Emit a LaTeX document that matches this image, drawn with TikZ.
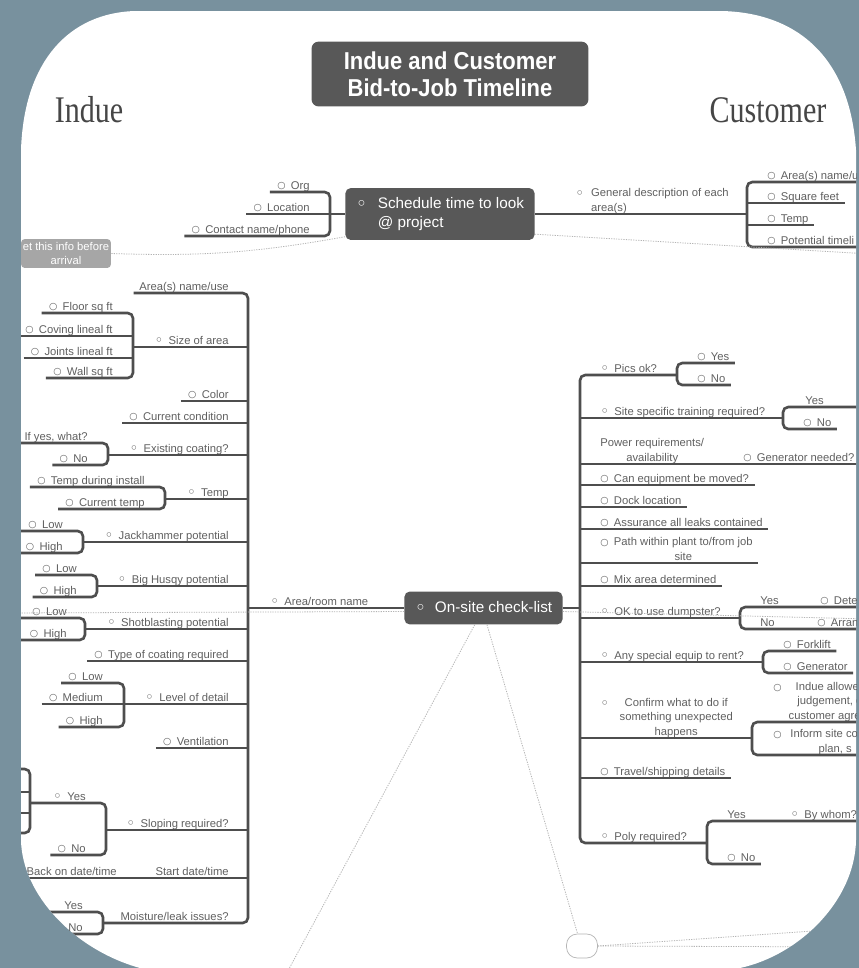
\documentclass[tikz,border=0pt]{standalone}
\usepackage{fontspec}
\setmainfont{Liberation Sans}
\newfontfamily\sidefont[FakeStretch=0.8]{Liberation Serif}
\newfontfamily\titlefont[FakeStretch=0.9]{Liberation Sans}
\newfontfamily\symfont{DejaVu Sans}
\usetikzlibrary{calc}

\definecolor{bgslate}{RGB}{120,145,158}
\definecolor{topicfill}{RGB}{88,88,88}
\definecolor{branchgray}{RGB}{78,78,78}
\definecolor{labelgray}{RGB}{96,96,96}
\definecolor{notefill}{RGB}{166,166,166}
\definecolor{relgray}{RGB}{180,180,180}
\definecolor{sidegray}{RGB}{70,70,70}

\newcommand\lblfont{\fontsize{6.4}{8}\selectfont}
\newcommand\topicfont{\fontsize{8.7}{10.8}\selectfont}
% markers in front of the labels
\newcommand\omk{\raisebox{0.4pt}{\symfont\fontsize{5.4}{6}\selectfont\char"25CB}}
\newcommand\emk{\raisebox{-1.1pt}{\symfont\fontsize{8.5}{8}\selectfont\char"25E6}}
\newcommand\temk{\raisebox{-1.3pt}{\symfont\fontsize{11}{8}\selectfont\char"25E6}}
\newcommand\ob{\omk\hspace{3pt}}
\newcommand\eb{\emk\hspace{3pt}}

\begin{document}
\begin{tikzpicture}[x=0.02cm, y=-0.02cm,
  lftlbl/.style={anchor=south east, inner xsep=0pt, inner ysep=0.5pt, text depth=1pt, font=\lblfont, text=labelgray},
  rgtlbl/.style={lftlbl, anchor=south west},
  branch/.style={draw=branchgray, line width=1.5pt, rounded corners=3pt},
  topic/.style={fill=topicfill, rounded corners=3pt, text=white, font=\topicfont, inner sep=0pt},
  relline/.style={draw=relgray, line width=0.45pt, dash pattern=on 0.7pt off 0.7pt},
  sidelbl/.style={anchor=base, font=\sidefont\fontsize{21.4}{24}\selectfont, text=sidegray}]
\useasboundingbox (0,0) rectangle (859,968);
\fill[bgslate] (0,0) rectangle (859,968);
\fill[white] (21,150) .. controls (24,60) and (70,13) .. (135,11) -- (722,11)
  .. controls (800,13) and (850,60) .. (856,150) -- (856,840)
  .. controls (855,900) and (800,955) .. (740,968) -- (140,968)
  .. controls (75,950) and (22,895) .. (21,840) -- cycle;
\begin{scope}
\clip (21,150) .. controls (24,60) and (70,13) .. (135,11) -- (722,11)
  .. controls (800,13) and (850,60) .. (856,150) -- (856,840)
  .. controls (855,900) and (800,955) .. (740,968) -- (140,968)
  .. controls (75,950) and (22,895) .. (21,840) -- cycle;

% title and sides
\node[topic, font=\titlefont\bfseries\fontsize{13.9}{15.3}\selectfont, align=center,
  minimum width=157.6pt, minimum height=36.9pt, rounded corners=4pt] (title) at (450,74)
  {Indue and Customer\\Bid-to-Job Timeline};
\node[sidelbl] (indue) at (89,122) {Indue};
\node[sidelbl] (customer) at (768,122) {Customer};

\coordinate (redge) at (880,0);

% schedule topic
\node[topic, minimum width=107.7pt, minimum height=29.5pt] (sched) at (440,214)
  {\begin{tabular}{@{}l@{\hspace{6pt}}l@{}}\temk & Schedule time to look\\ & @ project\end{tabular}};
\coordinate (sclj) at (330,214);
\node[lftlbl] (org) at (310,192) {\ob Org};
\node[lftlbl] (location) at (310,214) {\ob Location};
\node[lftlbl] (contact) at (310,236) {\ob Contact name/phone};
\draw[branch] ([xshift=-4pt]org.south west) -| (sclj) |- ([xshift=-4pt]contact.south west);
\draw[branch] ([xshift=-4pt]location.south west) -- (sched.west);

\node[rgtlbl] (gendesc) at (575,214)
  {\begin{tabular}[b]{@{}l@{\hspace{4pt}}l@{}}\emk & General description of each\\ & area(s)\end{tabular}};
\coordinate (gdj) at (747,214);
\node[rgtlbl] (areau) at (767,182) {\ob Area(s) name/u};
\node[rgtlbl] (sqft) at (767,203) {\ob Square feet};
\node[rgtlbl] (tmpb) at (767,225) {\ob Temp};
\node[rgtlbl] (potl) at (767,247) {\ob Potential timeli};
\draw[branch] (sched.east) -- (gdj);
\draw[branch] (areau.south west -| redge) -| (gdj) |- (potl.south west -| redge);
\foreach \n in {sqft,tmpb}
  \draw[branch] (gdj |- \n.south west) -- ([xshift=3pt]\n.south east);

\node[fill=notefill, text=white, font=\lblfont, align=center, rounded corners=2pt,
  minimum width=51pt, minimum height=16.4pt, inner sep=1pt] (getinfo) at (66,253.5)
  {et this info before\\arrival};

% on-site topic
\node[topic, minimum width=90pt, minimum height=18.7pt] (onsite) at (483.5,608)
  {\temk\hspace{5pt}On-site check-list};
\coordinate (lt) at (248,608);
\coordinate (rt) at (580,608);
\node[rgtlbl] (roomname) at (270,608) {\eb Area/room name};
\draw[branch] (onsite.west) -- (lt);
\draw[branch] (onsite.east) -- (rt);

% left tree
\node[lftlbl] (areause) at (229,293) {Area(s) name/use};
\node[lftlbl] (sizearea) at (229,347) {\eb Size of area};
\node[lftlbl] (clr) at (229,401) {\ob Color};
\node[lftlbl] (curcond) at (229,423) {\ob Current condition};
\node[lftlbl] (exist) at (229,455) {\eb Existing coating?};
\node[lftlbl] (temp) at (229,499) {\eb Temp};
\node[lftlbl] (jack) at (229,542) {\eb Jackhammer potential};
\node[lftlbl] (husqy) at (229,586) {\eb Big Husqy potential};
\node[lftlbl] (shot) at (229,629) {\eb Shotblasting potential};
\node[lftlbl] (coattype) at (229,661) {\ob Type of coating required};
\node[lftlbl] (detail) at (229,704) {\eb Level of detail};
\node[lftlbl] (vent) at (229,748) {\ob Ventilation};
\node[lftlbl] (slope) at (229,830) {\eb Sloping required?};
\node[lftlbl] (startdt) at (229,878) {Start date/time};
\node[lftlbl] (backon) at (117,878) {Back on date/time};
\node[lftlbl] (moist) at (229,923) {Moisture/leak issues?};

\coordinate (szj) at (133,347);
\coordinate (exj) at (108,455);
\coordinate (tpj) at (165,499);
\coordinate (jkj) at (83,542);
\coordinate (hqj) at (97,586);
\coordinate (sbj) at (85,629);
\coordinate (ldj) at (124,704);
\coordinate (slj) at (106,830);
\coordinate (syj) at (30,803);
\coordinate (mlj) at (103,923);

\node[lftlbl] (floor) at (113,313) {\ob Floor sq ft};
\node[lftlbl] (coving) at (113,336) {\ob Coving lineal ft};
\node[lftlbl] (joints) at (113,358) {\ob Joints lineal ft};
\node[lftlbl] (wall) at (113,378) {\ob Wall sq ft};
\node[lftlbl] (ifyes) at (88,443) {If yes, what?};
\node[lftlbl] (exno) at (88,465) {\ob No};
\node[lftlbl] (tdi) at (145,487) {\ob Temp during install};
\node[lftlbl] (ctemp) at (145,509) {\ob Current temp};
\node[lftlbl] (jklow) at (63,531) {\ob Low};
\node[lftlbl] (jkhigh) at (63,553) {\ob High};
\node[lftlbl] (hqlow) at (77,575) {\ob Low};
\node[lftlbl] (hqhigh) at (77,597) {\ob High};
\node[lftlbl] (sblow) at (67,618) {\ob Low};
\node[lftlbl] (sbhigh) at (67,640) {\ob High};
\node[lftlbl] (ldlow) at (103,683) {\ob Low};
\node[lftlbl] (ldmed) at (103,704) {\ob Medium};
\node[lftlbl] (ldhigh) at (103,727) {\ob High};
\node[lftlbl] (slyes) at (86,803) {\eb Yes};
\node[lftlbl] (slno) at (86,855) {\ob No};
\node[lftlbl] (mlyes) at (83,912) {Yes};
\node[lftlbl] (mlno) at (83,934) {No};

\draw[branch] ([xshift=-3pt]areause.south west) -| (lt) |- (mlj);
\foreach \n in {clr,curcond,coattype,vent}
  \draw[branch] ([xshift=-4pt]\n.south west) -- (\n.south west -| lt);
\foreach \j in {szj,exj,tpj,jkj,hqj,sbj,ldj,slj}
  \draw[branch] (\j) -- (\j -| lt);
\draw[branch] ([xshift=-8pt]backon.south west) -- (backon.south west -| lt);

\draw[branch] ([xshift=-4pt]floor.south west) -| (szj) |- ([xshift=-4pt]wall.south west);
\foreach \n in {coving,joints}
  \draw[branch] ([xshift=-4pt]\n.south west) -- (\n.south west -| szj);
\draw[branch] ([xshift=-12pt]ifyes.south west) -| (exj) |- ([xshift=-4pt]exno.south west);
\draw[branch] ([xshift=-4pt]tdi.south west) -| (tpj) |- ([xshift=-4pt]ctemp.south west);
\draw[branch] ([xshift=-6pt]jklow.south west) -| (jkj) |- ([xshift=-6pt]jkhigh.south west);
\draw[branch] ([xshift=-4pt]hqlow.south west) -| (hqj) |- ([xshift=-4pt]hqhigh.south west);
\draw[branch] ([xshift=-8pt]sblow.south west) -| (sbj) |- ([xshift=-8pt]sbhigh.south west);
\draw[branch] ([xshift=-4pt]ldlow.south west) -| (ldj) |- ([xshift=-4pt]ldhigh.south west);
\draw[branch] ([xshift=-4pt]ldmed.south west) -- (ldj);
\draw[branch] (syj) -| (slj) |- ([xshift=-4pt]slno.south west);
\draw[branch] (0,769) -| (syj) |- (0,833);
\draw[branch] (0,792) -- (30,792);
\draw[branch] (0,813) -- (30,813);
\draw[branch] ([xshift=-30pt]mlyes.south west) -| (mlj) |- ([xshift=-30pt]mlno.south west);

% right tree
\node[rgtlbl] (pics) at (600,375) {\eb Pics ok?};
\node[rgtlbl] (train) at (600,418) {\eb Site specific training required?};
\node[rgtlbl, align=center] (power) at (600,464) {Power requirements/\\availability};
\node[rgtlbl] (gen) at (743,464) {\ob Generator needed?};
\node[rgtlbl] (canmove) at (600,485) {\ob Can equipment be moved?};
\node[rgtlbl] (dock) at (600,507) {\ob Dock location};
\node[rgtlbl] (leaks) at (600,529) {\ob Assurance all leaks contained};
\node[rgtlbl] (path) at (600,563)
  {\begin{tabular}[b]{@{}l@{\hspace{3pt}}c@{}}\omk & Path within plant to/from job\\ & site\end{tabular}};
\node[rgtlbl] (mix) at (600,586) {\ob Mix area determined};
\node[rgtlbl] (dump) at (600,618) {\eb OK to use dumpster?};
\node[rgtlbl] (rent) at (600,662) {\eb Any special equip to rent?};
\node[rgtlbl] (confirm) at (600,738)
  {\begin{tabular}[b]{@{}l@{\hspace{6pt}}c@{}}\emk & Confirm what to do if\\ & something unexpected\\ & happens\end{tabular}};
\node[rgtlbl] (travel) at (600,778) {\ob Travel/shipping details};
\node[rgtlbl] (poly) at (600,843) {\eb Poly required?};

\coordinate (pkj) at (677,375);
\coordinate (trj) at (783,418);
\coordinate (dpj) at (740,618);
\coordinate (rnj) at (763,662);
\coordinate (cfj) at (752,738);
\coordinate (pyj) at (707,843);

\node[rgtlbl] (pkyes) at (697,363) {\ob Yes};
\node[rgtlbl] (pkno) at (697,385) {\ob No};
\node[rgtlbl] (tryes) at (805,407) {Yes};
\node[rgtlbl] (trno) at (803,429) {\ob No};
\node[rgtlbl] (dpyes) at (760,607) {Yes};
\node[rgtlbl] (dpdet) at (820,607) {\ob Dete};
\node[rgtlbl] (dpno) at (760,629) {No};
\node[rgtlbl] (dparr) at (817,629) {\ob Arran};
\node[rgtlbl] (fork) at (783,651) {\ob Forklift};
\node[rgtlbl] (genr) at (783,673) {\ob Generator};
\node[rgtlbl] (induea) at (773,722)
  {\begin{tabular}[b]{@{}l@{\hspace{4pt}}l@{}}\omk & \hspace*{4pt}Indue allowe\\ & \hspace*{5pt}judgement, c\\ & customer agre\end{tabular}};
\node[rgtlbl] (inform) at (773,755)
  {\begin{tabular}[b]{@{}l@{\hspace{5pt}}l@{}}\omk & Inform site co\\ & \hspace*{16pt}plan, s\end{tabular}};
\node[rgtlbl] (pyyes) at (727,821) {Yes};
\node[rgtlbl] (whom) at (790,821) {\eb By whom?};
\node[rgtlbl] (pyno) at (727,864) {\ob No};

\draw[branch] (pkj) -| (rt) |- (pyj);
\foreach \n in {canmove,dock,leaks,path,mix,travel}
  \draw[branch] (rt |- \n.south west) -- ([xshift=3pt]\n.south east);
\foreach \j in {trj,dpj,rnj,cfj}
  \draw[branch] (rt |- \j) -- (\j);
\draw[branch] (rt |- power.south west) -- (power.south west -| redge);
\draw[branch] ([xshift=3pt]pkyes.south east) -| (pkj) |- ([xshift=3pt]pkno.south east);
\draw[branch] (tryes.south west -| redge) -| (trj) |- ([xshift=3pt]trno.south east);
\draw[branch] (dpyes.south west -| redge) -| (dpj) |- (dpno.south west -| redge);
\draw[branch] ([xshift=3pt]fork.south east) -| (rnj) |- ([xshift=3pt]genr.south east);
\draw[branch] (induea.south west -| redge) -| (cfj) |- (inform.south west -| redge);
\draw[branch] (pyyes.south west -| redge) -| (pyj) |- ([xshift=3pt]pyno.south east);

% empty topic at the bottom
\node[draw=relgray, fill=white, rounded corners=6pt, minimum width=17.6pt, minimum height=13.6pt] (blank) at (582,946) {};

% relationship lines
\coordinate (relR) at (870,254);
\coordinate (relL) at (0,613);
\coordinate (relD) at (870,619);
\coordinate (relS) at (283,980);
\coordinate (relB) at (870,927);
\coordinate (relC) at (870,947);
\draw[relline] ([yshift=2pt]sched.south west) to[bend left=6] (getinfo.east);
\draw[relline] (sched.-12) -- (relR);
\draw[relline] ([yshift=-2pt]onsite.west) -- (relL);
\draw[relline] ([yshift=-2pt]onsite.east) -- (relD);
\draw[relline] ([xshift=-5pt]onsite.south) -- (relS);
\draw[relline] ([xshift=2pt]onsite.south) -- (blank.110);
\draw[relline] (blank.east) -- (relB);
\draw[relline] (blank.east) -- (relC);
\end{scope}
\end{tikzpicture}
\end{document}
